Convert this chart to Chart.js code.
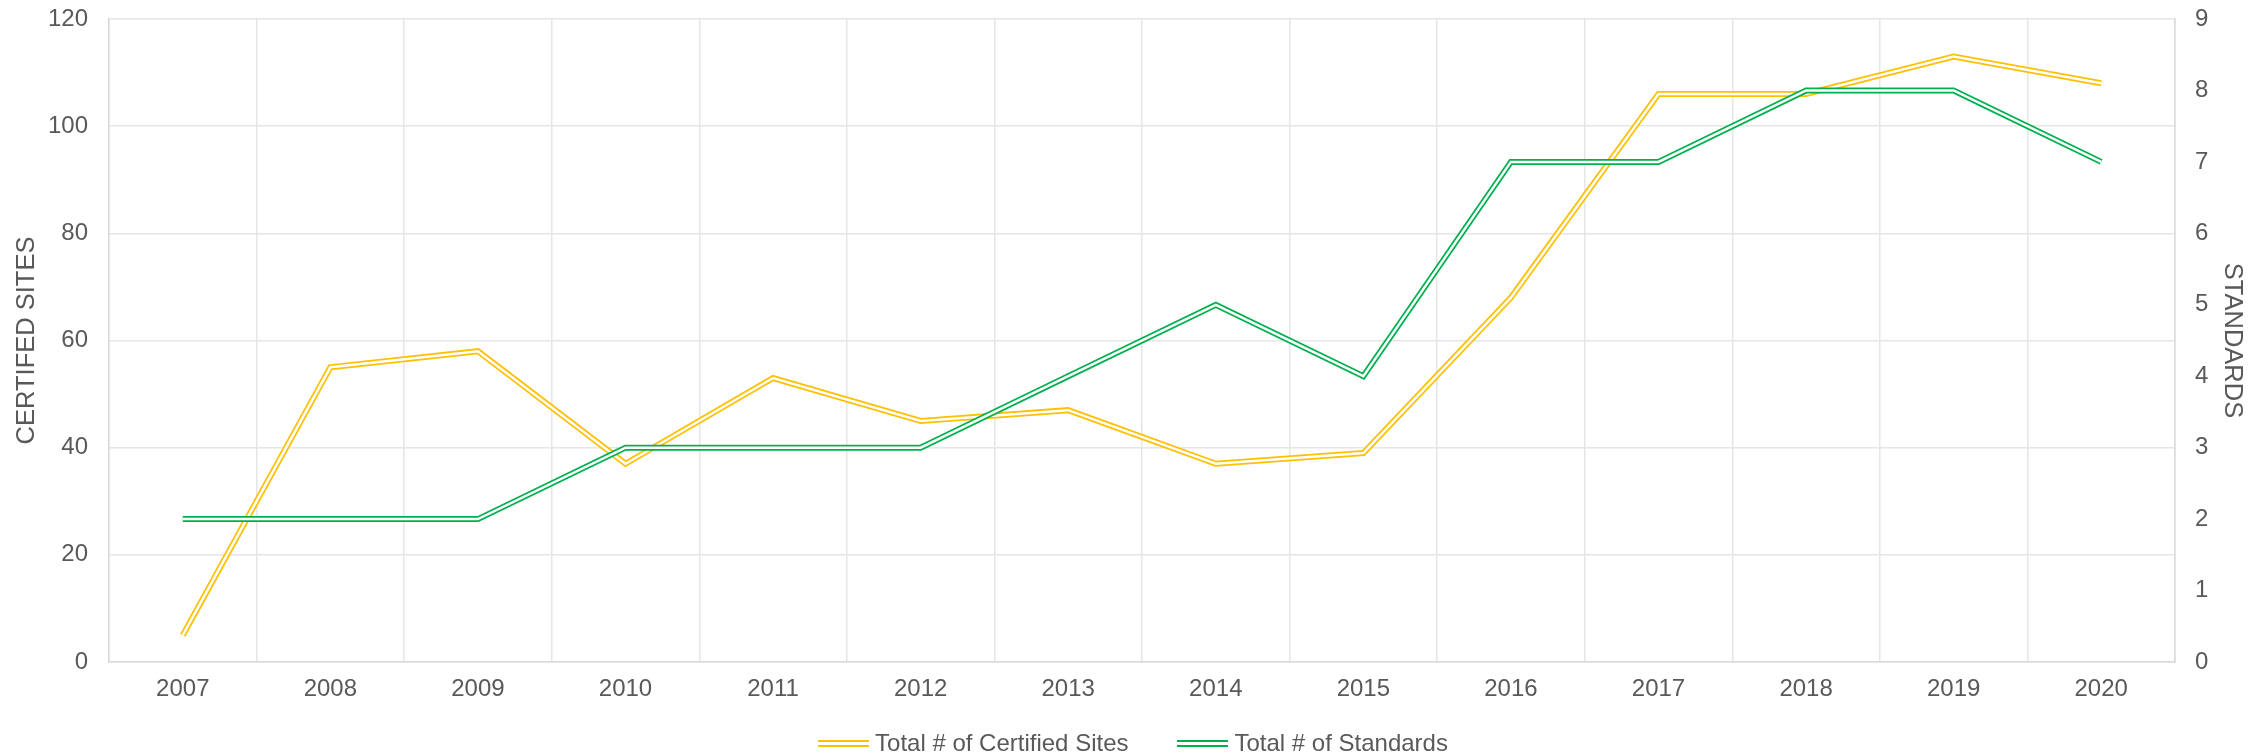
<!DOCTYPE html>
<html>
<head>
<meta charset="utf-8">
<script src="https://cdn.jsdelivr.net/npm/chart.js@4/dist/chart.umd.min.js"></script>
<style>
  html, body { margin: 0; padding: 0; background: #ffffff; }
  #wrap { position: relative; width: 2266px; height: 756px; overflow: hidden; }
  #c { position: absolute; left: 0; top: 0; }
  #legend { position: absolute; left: 0; width: 2266px; top: 725px; height: 36px;
    display: flex; justify-content: center; align-items: center;
    font-family: 'Liberation Sans', Arial, sans-serif; font-size: 24px; color: #595959; }
  .item { display: flex; align-items: center; }
  .item + .item { margin-left: 49px; }
  .icon { width: 51px; height: 7px; margin-right: 6px; position: relative; }
  .icon i { position: absolute; left: 0; width: 51px; height: 2px; }
  .icon i.a { top: 0; }
  .icon i.b { top: 5px; }
</style>
</head>
<body>
<div id="wrap">
  <canvas id="c" width="2266" height="756"></canvas>
  <div id="legend"></div>
</div>
<script>
const years = ['2007','2008','2009','2010','2011','2012','2013','2014','2015','2016','2017','2018','2019','2020'];
const certifiedSites = [5, 55, 58, 37, 53, 45, 47, 37, 39, 68, 106, 106, 113, 108];
const standards = [2, 2, 2, 3, 3, 3, 4, 5, 4, 7, 7, 8, 8, 7];
const leftTicks = [0, 20, 40, 60, 80, 100, 120];
const rightTicks = [0, 1, 2, 3, 4, 5, 6, 7, 8, 9];
const seriesNames = ['Total # of Certified Sites', 'Total # of Standards'];
const axisTitles = ['CERTIFED SITES', 'STANDARDS'];

const ORANGE = '#FFC000';
const GREEN = '#00B050';
const TEXT = '#595959';
const GRID = '#E6E6E6';
const FONT = "'Liberation Sans', Arial, sans-serif";

// HTML legend
const legendEl = document.getElementById('legend');
[ORANGE, GREEN].forEach((col, k) => {
  const item = document.createElement('div'); item.className = 'item';
  const icon = document.createElement('div'); icon.className = 'icon';
  const a = document.createElement('i'); a.className = 'a'; a.style.background = col;
  const b = document.createElement('i'); b.className = 'b'; b.style.background = col;
  icon.appendChild(a); icon.appendChild(b);
  const t = document.createElement('span'); t.textContent = seriesNames[k];
  item.appendChild(icon); item.appendChild(t);
  legendEl.appendChild(item);
});

function outerDs(label, data, color, axis, order) {
  return { label, data, yAxisID: axis, borderColor: color, backgroundColor: color,
    borderWidth: 6, pointRadius: 0, pointHoverRadius: 0, tension: 0, fill: false,
    borderJoinStyle: 'miter', borderCapStyle: 'butt', order };
}
function innerDs(data, axis, order) {
  return { label: '__inner', data, yAxisID: axis, borderColor: '#ffffff', backgroundColor: '#ffffff',
    borderWidth: 2.5, pointRadius: 0, pointHoverRadius: 0, tension: 0, fill: false,
    borderJoinStyle: 'miter', borderCapStyle: 'butt', order };
}

new Chart(document.getElementById('c'), {
  type: 'line',
  data: {
    labels: years,
    datasets: [
      outerDs(seriesNames[0], certifiedSites, ORANGE, 'y', 3),
      innerDs(certifiedSites, 'y', 2),
      outerDs(seriesNames[1], standards, GREEN, 'y1', 1),
      innerDs(standards, 'y1', 0)
    ]
  },
  options: {
    responsive: false,
    animation: false,
    events: [],
    layout: { padding: { top: 19, left: 12, right: 19, bottom: 52 } },
    plugins: {
      tooltip: { enabled: false },
      legend: { display: false }
    },
    scales: {
      x: {
        type: 'category',
        offset: true,
        afterFit: (s) => { s.height = 42; s.paddingLeft = 0; s.paddingRight = 0; },
        grid: { offset: true, color: GRID, lineWidth: 1.5, drawTicks: false },
        border: { color: '#D9D9D9', width: 1.5 },
        ticks: { color: TEXT, font: { family: FONT, size: 24 }, padding: 13, maxRotation: 0, autoSkip: false }
      },
      y: {
        position: 'left',
        min: 0, max: 120,
        afterBuildTicks: (s) => { s.ticks = leftTicks.map(v => ({ value: v })); },
        afterFit: (s) => { s.width = 97; s.paddingTop = 0; s.paddingBottom = 0; },
        grid: { color: GRID, lineWidth: 1.5, drawTicks: false },
        border: { color: '#D9D9D9', width: 1.5 },
        ticks: { color: TEXT, font: { family: FONT, size: 24 }, padding: 21 },
        title: { display: true, text: axisTitles[0], color: TEXT, font: { family: FONT, size: 25.5 }, padding: { top: 0, bottom: 0 } }
      },
      y1: {
        position: 'right',
        min: 0, max: 9,
        afterBuildTicks: (s) => { s.ticks = rightTicks.map(v => ({ value: v })); },
        afterFit: (s) => { s.width = 72; s.paddingTop = 0; s.paddingBottom = 0; },
        grid: { drawOnChartArea: false, drawTicks: false },
        border: { color: '#D9D9D9', width: 1.5 },
        ticks: { color: TEXT, font: { family: FONT, size: 24 }, padding: 20 },
        title: { display: true, text: axisTitles[1], color: TEXT, font: { family: FONT, size: 25.5 }, padding: { top: 0, bottom: 0 } }
      }
    }
  }
});
</script>
</body>
</html>
